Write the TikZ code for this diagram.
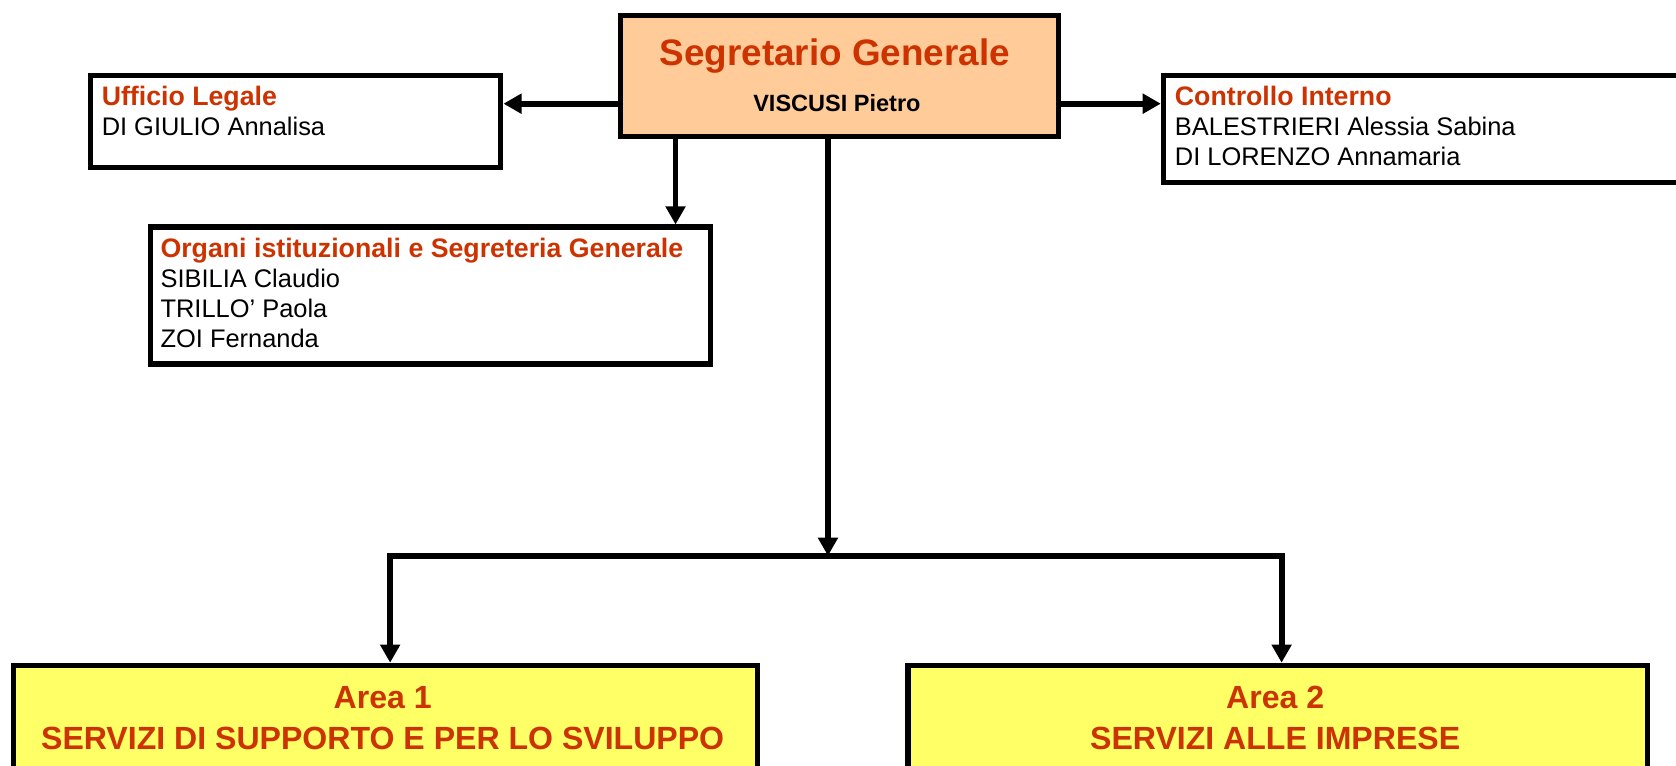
\documentclass[tikz,border=0pt]{standalone}
\usepackage{fontspec}
\setmainfont{Liberation Sans}
\usetikzlibrary{arrows.meta}
\definecolor{titred}{HTML}{CC3300}
\definecolor{peach}{HTML}{FFCC99}
\definecolor{areayel}{HTML}{FFFF66}
\newcommand{\hdtxt}[1]{{\fontsize{25}{28}\selectfont\bfseries\color{titred}#1}}
\begin{document}
\begin{tikzpicture}[x=1pt,y=-1pt,
  box/.style={draw=black, line width=5pt, rectangle, inner sep=0pt, anchor=north west},
  conn/.style={line width=5.5pt, -{Triangle[length=17pt,width=18pt]}},
  link/.style={line width=5.5pt},
  txt/.style={anchor=base west, inner sep=0pt, align=left, font=\fontsize{23.8}{28}\selectfont},
  areatxt/.style={anchor=base, inner sep=0pt, align=center, text=titred, font=\fontsize{30}{38}\selectfont\bfseries},
]
\useasboundingbox (0,0) rectangle (1568,716.6);
\clip (0,0) rectangle (1568,716.6);

% boxes
\node[box, fill=peach, minimum width=410pt, minimum height=113pt] (sg) at (578,12) {};
\node[box, fill=white, minimum width=384pt, minimum height=86pt] (uf) at (82,68) {};
\node[box, fill=white, minimum width=560pt, minimum height=100pt] (ci) at (1086,68) {};
\node[box, fill=white, minimum width=524pt, minimum height=128pt] (org) at (138,210) {};
\node[box, fill=areayel, minimum width=696pt, minimum height=160pt] (a1) at (10,620) {};
\node[box, fill=areayel, minimum width=692pt, minimum height=160pt] (a2) at (847,620) {};

% texts
\node[anchor=base, inner sep=0pt, text=titred, font=\fontsize{34.5}{40}\selectfont\bfseries] (sgt) at (781,61) {Segretario Generale};
\node[anchor=base, inner sep=0pt, font=\fontsize{22}{25}\selectfont\bfseries] (sgn) at (783,104) {VISCUSI Pietro};
\coordinate (sgy) at (783,97);

\node[txt] (uft) at (95,127) {\hdtxt{Ufficio Legale}\\DI GIULIO Annalisa};
\node[txt] (cit) at (1099,155) {\hdtxt{Controllo Interno}\\BALESTRIERI Alessia Sabina\\DI LORENZO Annamaria};
\node[txt] (orgt) at (150,325) {\hdtxt{Organi istituzionali e Segreteria Generale}\\SIBILIA Claudio\\TRILLO’ Paola\\ZOI Fernanda};

\node[areatxt] (a1t) at (358,701) {Area 1\\SERVIZI DI SUPPORTO E PER LO SVILUPPO};
\node[areatxt] (a2t) at (1193,701) {Area 2\\SERVIZI ALLE IMPRESE};

% connectors
\draw[conn] (sg.west |- sgy) -- (uf.east |- sgy);
\draw[conn] (sg.east |- sgy) -- (ci.west |- sgy);
\coordinate (orgx) at (632,0);
\draw[conn] (sg.south -| orgx) -- (org.north -| orgx);
\coordinate (bus) at (774.6,520);
\coordinate (busl) at (365,520);
\coordinate (busr) at (1199,520);
\draw[conn] (sg.south -| bus) -- (bus);
\draw[link] ([xshift=-2.75pt]busl) -- ([xshift=2.75pt]busr);
\draw[conn] (busl) -- (a1.north -| busl);
\draw[conn] (busr) -- (a2.north -| busr);
\end{tikzpicture}
\end{document}
